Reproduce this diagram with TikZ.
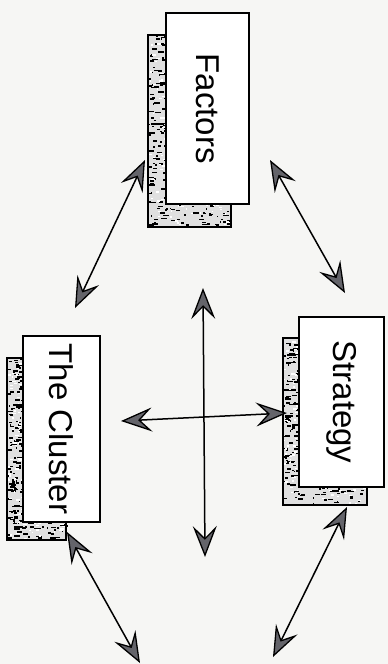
\documentclass[tikz,border=0pt]{standalone}
\usepackage{fontspec}
\setmainfont{Liberation Sans}
\usetikzlibrary{arrows.meta}

\definecolor{paper}{RGB}{246,246,244}
\definecolor{tipgray}{RGB}{100,100,106}

\tikzset{
  headtip/.tip={Stealth[length=31pt,width=24pt,inset=12pt,fill=tipgray,line width=1.3pt]},
  box/.style={draw=black, line width=1.6pt, fill=white, inner sep=0pt,
    rotate=-90, font=\fontsize{33}{33}\selectfont},
  biarrow/.style={line width=1.5pt, headtip-headtip},
}

% grainy drop shadow behind a box: x1 y1 x2 y2
\newcommand\grainshadow[4]{%
  \fill[black!12] (#1,#2) rectangle (#3,#4);
  \foreach \k in {1,...,520}{%
    \pgfmathsetmacro\gx{#1+rnd*(#3-#1-3)}%
    \pgfmathsetmacro\gy{#2+rnd*(#4-#2-2)}%
    \pgfmathsetmacro\gw{1+5*rnd}%
    \fill[black] (\gx,\gy) rectangle ++(\gw,1.6);
  }%
  \foreach \k in {1,...,200}{%
    \pgfmathsetmacro\gx{#1+rnd*(#3-#1-3)}%
    \pgfmathsetmacro\gy{#2+rnd*(#4-#2-2)}%
    \pgfmathsetmacro\gw{1+3*rnd}%
    \fill[white] (\gx,\gy) rectangle ++(\gw,1.4);
  }%
  \draw[black, line width=2pt] (#1,#2) rectangle (#3,#4);
}

\begin{document}
\begin{tikzpicture}[x=1pt, y=-1pt]
  \useasboundingbox (0,0) rectangle (388,664);
  \fill[paper] (0,0) rectangle (388,664);
  \pgfmathsetseed{11}

  % shadows
  \grainshadow{148}{35}{231}{227}
  \grainshadow{7}{358}{66}{540}
  \grainshadow{283}{338}{367}{505}

  % boxes
  \node[box, minimum width=191pt, minimum height=83pt] (factors) at (207.5,108.5) {Factors};
  \node[box, minimum width=186pt, minimum height=77pt] (cluster) at (61.5,429) {The Cluster};
  \node[box, minimum width=170pt, minimum height=85pt] (strategy) at (341.5,402) {Strategy};

  % arrow end points
  \coordinate (fcA) at (145,160);
  \coordinate (fcB) at (75,308);
  \coordinate (fsA) at (270,160);
  \coordinate (fsB) at (345,293);
  \coordinate (vA) at (203,288);
  \coordinate (vB) at (205,557);
  \coordinate (hA) at (121,421);
  \coordinate (hB) at (287,413);
  \coordinate (cbA) at (67,532);
  \coordinate (cbB) at (140,663);
  \coordinate (sbA) at (347,507);
  \coordinate (sbB) at (273,657);

  % connectors
  \draw[biarrow] (fcA) -- (fcB);
  \draw[biarrow] (fsA) -- (fsB);
  \draw[biarrow] (vA) -- (vB);
  \draw[biarrow] (hA) -- (hB);
  \draw[biarrow] (cbA) -- (cbB);
  \draw[biarrow] (sbA) -- (sbB);
\end{tikzpicture}
\end{document}
